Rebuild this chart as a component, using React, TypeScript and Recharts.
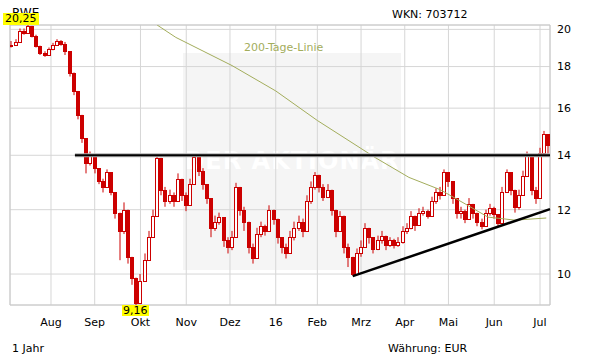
import React from "react";
import {
  ComposedChart,
  Bar,
  Line,
  XAxis,
  YAxis,
  CartesianGrid,
  ReferenceLine,
  ReferenceArea,
} from "recharts";

// closing prices, one every second trading day (index 1, 3, 5, ...)
const closes = [
  19.15, 19.3, 19.9, 19.8, 20.2, 19.65, 19.1, 18.7, 18.6, 18.9,
  19.15, 19.35, 19.2, 18.8, 17.7, 16.8, 15.7, 14.7, 13.7, 14.0,
  13.5, 13.0, 12.8, 13.35, 12.6, 11.9, 11.3, 12.0, 10.5, 9.9,
  9.2, 9.8, 10.4, 11.1, 11.8, 13.9, 12.7, 12.3, 12.5, 12.3,
  13.1, 12.5, 12.15, 12.9, 13.95, 13.4, 12.9, 12.4, 11.4, 11.6,
  11.75, 11.0, 10.8, 11.1, 12.8, 12.0, 11.6, 10.8, 10.45, 11.2,
  11.45, 11.3, 12.0, 11.7, 11.1, 10.8, 10.6, 11.1, 11.4, 11.6,
  11.3, 12.3, 12.8, 13.25, 12.8, 12.45, 12.7, 12.0, 11.3, 11.8,
  10.8, 10.5, 10.0, 10.6, 10.8, 11.4, 11.1, 10.75, 11.0, 11.15,
  10.85, 11.0, 10.85, 10.95, 11.3, 11.4, 11.8, 11.5, 11.9, 11.95,
  11.8, 12.3, 12.6, 12.5, 13.35, 13.0, 12.4, 11.9, 11.95, 11.7,
  12.2, 11.9, 11.6, 11.45, 11.9, 12.05, 11.85, 11.55, 12.6, 13.35,
  12.7, 12.1, 12.5, 13.2, 14.05, 12.7, 12.4, 14.1, 14.85, 14.4,
];

const highs = [
  19.35, 19.45, 20.05, 20.05, 20.25, 20.2, 19.7, 19.1, 18.8, 19.0,
  19.25, 19.45, 19.4, 19.3, 18.8, 17.7, 16.8, 15.7, 14.7, 14.15,
  14.0, 13.5, 13.1, 13.45, 13.35, 12.6, 11.9, 12.25, 12.0, 10.5,
  9.9, 10.0, 10.6, 11.3, 12.0, 14.05, 13.9, 12.8, 12.7, 12.6,
  13.3, 13.1, 12.6, 13.1, 14.05, 13.95, 13.5, 12.9, 12.4, 11.8,
  11.9, 11.75, 11.1, 11.3, 12.95, 12.8, 12.1, 11.6, 10.9, 11.4,
  11.6, 11.5, 12.15, 12.0, 11.7, 11.1, 10.9, 11.3, 11.6, 11.8,
  11.7, 12.5, 13.0, 13.35, 13.25, 12.9, 12.9, 12.7, 12.0, 11.95,
  11.8, 10.9, 10.5, 10.75, 11.0, 11.55, 11.4, 11.1, 11.15, 11.3,
  11.15, 11.1, 11.05, 11.1, 11.45, 11.55, 11.95, 11.8, 12.05, 12.1,
  12.0, 12.45, 12.75, 12.8, 13.45, 13.35, 13.0, 12.4, 12.1, 12.0,
  12.4, 12.2, 11.9, 11.7, 12.0, 12.2, 12.1, 11.85, 12.8, 13.45,
  13.35, 12.7, 12.7, 13.4, 14.15, 14.05, 12.8, 14.3, 15.0, 14.85,
];

const lows = [
  19.0, 19.1, 19.3, 19.7, 19.75, 19.55, 19.0, 18.6, 18.5, 18.55,
  18.85, 19.1, 19.1, 18.6, 17.5, 16.6, 15.5, 14.5, 13.3, 13.6,
  13.3, 12.9, 12.6, 12.8, 12.5, 11.7, 10.4, 11.2, 10.3, 9.7,
  9.16, 9.2, 9.8, 10.4, 11.1, 11.8, 12.5, 12.1, 12.2, 12.1,
  12.3, 12.3, 11.95, 12.15, 12.9, 13.2, 12.7, 12.2, 11.1, 11.3,
  11.5, 10.8, 10.6, 10.7, 11.1, 11.8, 11.3, 10.6, 10.3, 10.45,
  11.1, 11.15, 11.3, 11.5, 10.9, 10.6, 10.45, 10.6, 11.0, 11.3,
  11.1, 11.3, 12.2, 12.7, 12.6, 12.3, 12.4, 11.8, 11.1, 11.3,
  10.6, 10.2, 9.95, 10.0, 10.5, 10.8, 10.9, 10.6, 10.7, 10.9,
  10.7, 10.8, 10.75, 10.8, 10.9, 11.2, 11.35, 11.3, 11.5, 11.8,
  11.7, 11.8, 12.2, 12.35, 12.5, 12.8, 12.2, 11.7, 11.7, 11.55,
  11.7, 11.7, 11.45, 11.35, 11.45, 11.8, 11.7, 11.45, 11.55, 12.6,
  12.5, 11.9, 12.0, 12.5, 13.2, 12.5, 12.2, 12.4, 14.1, 14.0,
];

// 200-day line (trading day index -> value)
const maIdx = [71, 80, 107, 128, 148, 176, 192, 207, 219, 230, 243, 258];
const maValues = [20.25, 19.55, 18.05, 16.8, 15.45, 13.9, 13.15, 12.7, 12.2, 11.75, 11.65, 11.72];

// first trading day of each month
const monthTicks = [20, 41, 63, 85, 106, 128, 148, 169, 190, 211, 233, 255];
const monthLabels = ["Aug", "Sep", "Okt", "Nov", "Dez", "16", "Feb", "Mrz", "Apr", "Mai", "Jun", "Jul"];

const priceTicks = [10, 12, 14, 16, 18, 20];
const yMin = 9.16;
const yMax = 20.25;
const xDomain = [0.3, 259.8];

// resistance at 14 and the rising support line
const resistance = { from: 31.5, level: 14 };
const support = { x1: 165, y1: 9.94, x2: 259.8, y2: 12.02 };

const RED = "#cc0000";
const OLIVE = "#a3ad5c";
const FONT = '"DejaVu Sans", Verdana, sans-serif';

const candles = closes.map((c, k) => {
  const o = k === 0 ? c : closes[k - 1];
  const h = Math.max(highs[k], o, c);
  const l = Math.min(lows[k], o, c);
  return { i: 1 + 2 * k, o, c, h, l, range: [l, h] };
});

const maData = maIdx.map((i, k) => ({ i, ma: maValues[k] }));

function Candle(props: any) {
  const { x, y, width, height, payload } = props;
  if (x == null || y == null || !payload) return null;
  const { o, c, h, l } = payload;
  const span = Math.log(h) - Math.log(l);
  const yOf = (v: number) => (span > 0 ? y + (height * (Math.log(h) - Math.log(v))) / span : y);
  const up = c > o;
  const cx = Math.round(x + width / 2);
  const bTop = Math.round(yOf(Math.max(o, c)));
  const bBot = Math.round(yOf(Math.min(o, c)));
  return (
    <g>
      <line x1={cx} x2={cx} y1={y} y2={y + Math.max(height, 1)} stroke={RED} strokeWidth={1} />
      <rect
        x={cx - 2 + 0.5}
        y={bTop + 0.5}
        width={3}
        height={Math.max(bBot - bTop, 1)}
        fill={up ? "#fff" : RED}
        stroke={RED}
        strokeWidth={1}
      />
    </g>
  );
}

const txt: React.CSSProperties = {
  position: "absolute",
  fontFamily: FONT,
  fontSize: 11,
  lineHeight: "13px",
  color: "#000",
  whiteSpace: "nowrap",
};

export default function App() {
  return (
    <div style={{ position: "absolute", left: 0, top: 0, width: 611, height: 364, background: "#fff", overflow: "hidden" }}>
      {/* watermark */}
      <div
        style={{
          position: "absolute",
          left: 183,
          top: 53,
          width: 218,
          height: 217,
          background: "#f5f5f5",
        }}
      >
        <div
          style={{
            position: "absolute",
            left: 0,
            width: 218,
            top: 94,
            textAlign: "center",
            fontFamily: FONT,
            fontWeight: 700,
            fontSize: 24,
            color: "#fff",
            letterSpacing: 1,
          }}
        >
          DER AKTIONÄR
        </div>
      </div>

      <div style={{ position: "absolute", left: 0, top: 0 }}>
        <ComposedChart
          width={611}
          height={364}
          data={candles}
          barCategoryGap={0}
          barGap={0}
          margin={{ top: 25, left: 10, right: 21, bottom: 29 }}
        >
          <CartesianGrid stroke="#d6d6d6" strokeWidth={1} />
          <XAxis
            dataKey="i"
            type="number"
            domain={xDomain}
            allowDataOverflow
            ticks={monthTicks}
            interval={0}
            tickFormatter={(v: number) => monthLabels[monthTicks.indexOf(v)] ?? ""}
            tickLine={false}
            axisLine={false}
            tickSize={0}
            tickMargin={13}
            height={30}
            tick={{ fontSize: 11, fill: "#000", fontFamily: FONT }}
          />
          <YAxis
            orientation="right"
            scale="log"
            domain={[yMin, yMax]}
            allowDataOverflow
            ticks={priceTicks}
            interval={0}
            tickLine={false}
            axisLine={false}
            tickSize={0}
            tickMargin={7}
            width={40}
            tick={{ fontSize: 11, fill: "#000", fontFamily: FONT, textAnchor: "start" }}
          />
          <ReferenceArea
            x1={xDomain[0]}
            x2={xDomain[1]}
            y1={yMin}
            y2={yMax}
            fill="none"
            stroke="#c8c8c8"
            strokeWidth={1}
            ifOverflow="visible"
          />
          <Line
            data={maData}
            dataKey="ma"
            type="linear"
            stroke={OLIVE}
            strokeWidth={1}
            dot={false}
            isAnimationActive={false}
          />
          <Bar
            dataKey="range"
            barSize={4}
            isAnimationActive={false}
            shape={(p: any) => <Candle {...p} />}
          />
          {/* resistance */}
          <ReferenceLine
            segment={[{ x: resistance.from, y: resistance.level }, { x: xDomain[1], y: resistance.level }]}
            stroke="#b0b0b0"
            strokeWidth={4}
            ifOverflow="visible"
          />
          <ReferenceLine
            segment={[{ x: resistance.from, y: resistance.level }, { x: xDomain[1], y: resistance.level }]}
            stroke="#000"
            strokeWidth={2}
            ifOverflow="visible"
          />
          {/* support trend line */}
          <ReferenceLine
            segment={[{ x: support.x1, y: support.y1 }, { x: support.x2, y: support.y2 }]}
            stroke="#000"
            strokeWidth={2.5}
            ifOverflow="visible"
          />
        </ComposedChart>
      </div>

      <div style={{ ...txt, left: 12, top: 6, fontSize: 12, lineHeight: "14px" }}>RWE</div>
      <div style={{ ...txt, left: 392, top: 8 }}>WKN: 703712</div>
      <div style={{ ...txt, left: 244, top: 41, color: OLIVE }}>200-Tage-Linie</div>
      <div style={{ ...txt, left: 3, top: 13, height: 12, lineHeight: "12px", padding: "0 2px", background: "#ffff00" }}>20,25</div>
      <div style={{ ...txt, left: 122, top: 305, height: 11, lineHeight: "11px", padding: "0 1px", background: "#ffff00" }}>9,16</div>
      <div style={{ ...txt, left: 12, top: 342 }}>1 Jahr</div>
      <div style={{ ...txt, left: 388, top: 342 }}>Währung: EUR</div>
    </div>
  );
}
